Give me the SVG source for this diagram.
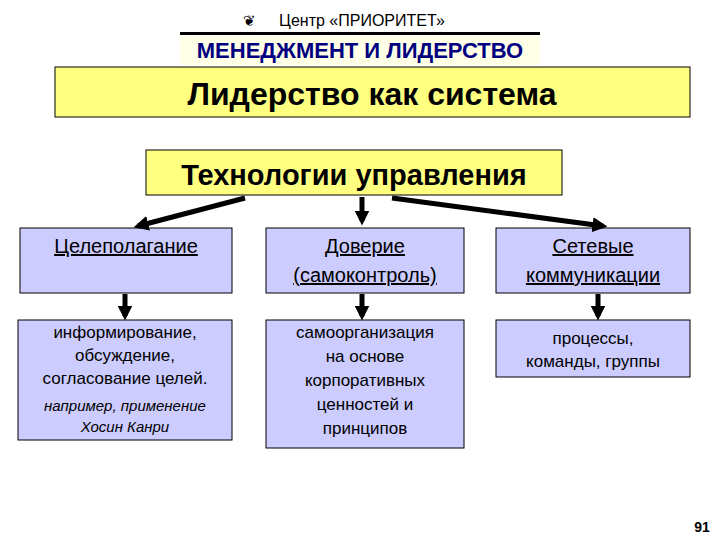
<svg xmlns="http://www.w3.org/2000/svg" width="720" height="540" viewBox="0 0 720 540">
<style>
text{font-family:"Liberation Sans",Arial,sans-serif;text-anchor:middle;fill:#000}
.b{fill:#ccccff;stroke:#000;stroke-width:1}
.y{fill:#ffff80;stroke:#000;stroke-width:1}
.h{font-size:20px;text-decoration:underline}
.s{font-size:17px}
.i{font-size:15px;font-style:italic}
.c{stroke:#000;stroke-width:5;fill:none;marker-end:url(#a)}
</style>
<defs><marker id="a" viewBox="0 0 10 10" refX="7" refY="5" markerWidth="3" markerHeight="3" orient="auto"><path d="M0,0L10,5L0,10z" fill="#000"/></marker></defs>
<rect width="720" height="540" fill="#fff"/>
<g id="header">
<text x="249" y="26" font-size="15">❦</text>
<text x="362" y="26" font-size="16">Центр «ПРИОРИТЕТ»</text>
<rect x="180" y="32" width="360" height="3" fill="#000"/>
<rect x="180" y="36" width="360" height="29" fill="#ffffe8"/>
<text x="360" y="58" font-size="22" font-weight="bold" style="fill:#000080">МЕНЕДЖМЕНТ И ЛИДЕРСТВО</text>
</g>
<g id="n-system"><rect class="y" x="55" y="67" width="635" height="50"/><text x="372" y="105" font-size="32" font-weight="bold">Лидерство как система</text></g>
<g id="n-tech"><rect class="y" x="146" y="150" width="416" height="45"/><text x="354" y="185" font-size="29" font-weight="bold">Технологии управления</text></g>
<g id="n-goal"><rect class="b" x="20" y="228" width="212" height="65"/><text class="h" x="126" y="253">Целеполагание</text></g>
<g id="n-trust"><rect class="b" x="266" y="228" width="198" height="65"/><text class="h" x="365" y="253">Доверие</text><text class="h" x="365" y="282">(самоконтроль)</text></g>
<g id="n-net"><rect class="b" x="496" y="228" width="194" height="65"/><text class="h" x="593" y="253">Сетевые</text><text class="h" x="593" y="282">коммуникации</text></g>
<g id="n-inform"><rect class="b" x="18" y="320" width="214" height="120"/>
<text class="s" x="125" y="338">информирование,</text><text class="s" x="125" y="361">обсуждение,</text><text class="s" x="125" y="384">согласование целей.</text>
<text class="i" x="125" y="411">например, применение</text><text class="i" x="125" y="432">Хосин Канри</text></g>
<g id="n-self"><rect class="b" x="266" y="320" width="198" height="128"/>
<text class="s" x="365" y="338">самоорганизация</text><text class="s" x="365" y="362">на основе</text><text class="s" x="365" y="386">корпоративных</text><text class="s" x="365" y="410">ценностей и</text><text class="s" x="365" y="434">принципов</text></g>
<g id="n-proc"><rect class="b" x="496" y="320" width="194" height="57"/>
<text class="s" x="593" y="344">процессы,</text><text class="s" x="593" y="367">команды, группы</text></g>
<g id="connectors">
<line class="c" x1="245" y1="198" x2="138" y2="226"/>
<line class="c" x1="362" y1="197" x2="362" y2="221"/>
<line class="c" x1="392" y1="198" x2="603" y2="226"/>
<line class="c" x1="125" y1="294" x2="125" y2="316"/>
<line class="c" x1="362" y1="294" x2="362" y2="316"/>
<line class="c" x1="598" y1="294" x2="598" y2="316"/>
</g>
<text x="702" y="532" font-size="14" font-weight="bold">91</text>
</svg>
